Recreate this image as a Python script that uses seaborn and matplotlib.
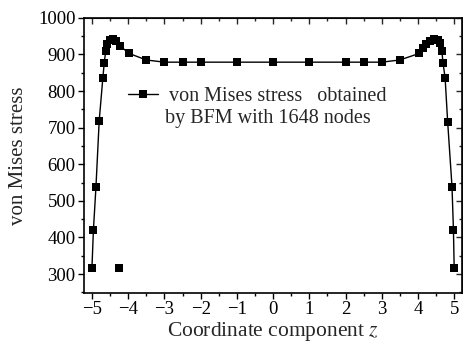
import numpy as np
import pandas as pd
import seaborn as sns
import matplotlib.pyplot as plt
from matplotlib.ticker import MultipleLocator

# values
z = [-5.0, -4.96, -4.89, -4.80, -4.70, -4.66, -4.62, -4.58, -4.50, -4.41,
     -4.34, -4.23, -3.98, -3.5, -3.0, -2.5, -2.0, -1.0, 0.0, 1.0, 2.0, 2.5,
     3.0, 3.5, 4.04, 4.13, 4.23, 4.32, 4.43, 4.54, 4.61, 4.66, 4.69, 4.75,
     4.82, 4.94, 4.98, 5.0]
stress = [317, 420, 537, 719, 835, 878, 909, 930, 939, 941,
          937, 924, 903, 885, 879, 879, 879, 879, 879, 879, 879, 879,
          879, 885, 903, 917, 928, 937, 941, 939, 932, 910, 878, 836,
          716, 539, 420, 317]
stray_z = [-4.25]
stray_stress = [317]

df = pd.DataFrame({'z': z, 'stress': stress})

sns.set_style('ticks')
plt.rcParams['font.family'] = ['Liberation Serif', 'DejaVu Serif']
plt.rcParams['mathtext.fontset'] = 'stix'

fig = plt.figure(figsize=(4.64, 3.44), dpi=100)
ax = fig.add_axes([0.181, 0.148, 0.815, 0.800])

sns.lineplot(data=df, x='z', y='stress', sort=False, color='black', lw=1.0,
             marker='s', markersize=5.5, markeredgewidth=0, ax=ax,
             label='von Mises stress   obtained')
ax.plot(stray_z, stray_stress, 's', color='black', markersize=5.5, markeredgewidth=0)

ax.set_xlim(-5.22, 5.22)
ax.set_ylim(248, 1000)
ax.xaxis.set_minor_locator(MultipleLocator(0.5))
ax.yaxis.set_major_locator(MultipleLocator(100))
ax.yaxis.set_minor_locator(MultipleLocator(50))
ax.set_xticks(range(-5, 6))
ax.set_xticklabels([str(v).replace('-', '\u2212') for v in range(-5, 6)])

ax.tick_params(which='both', direction='out', width=1, labelsize=13.5, colors='black', pad=2)
ax.tick_params(which='major', length=4)
ax.tick_params(which='minor', length=2.5)
for s in ax.spines.values():
    s.set_linewidth(1.2)
    s.set_color('black')

# inward ticks on top and right
top = ax.secondary_xaxis('top')
top.xaxis.set_major_locator(MultipleLocator(1))
top.xaxis.set_minor_locator(MultipleLocator(0.5))
top.tick_params(which='both', direction='in', labeltop=False, width=1)
top.tick_params(which='major', length=4)
top.tick_params(which='minor', length=2.5)
right = ax.secondary_yaxis('right')
right.yaxis.set_major_locator(MultipleLocator(100))
right.yaxis.set_minor_locator(MultipleLocator(50))
right.tick_params(which='both', direction='in', labelright=False, width=1)
right.tick_params(which='major', length=4)
right.tick_params(which='minor', length=2.5)

ax.set_xlabel('Coordinate component $z$', fontsize=15.5, labelpad=1)
ax.set_ylabel('von Mises stress', fontsize=15, labelpad=7)

ax.legend(loc='center left', bbox_to_anchor=(0.116, 0.713), frameon=False,
          fontsize=14.5, handlelength=1.5, handletextpad=0.55,
          borderaxespad=0, borderpad=0)
ax.text(0.214, 0.635, 'by BFM with 1648 nodes', transform=ax.transAxes,
        fontsize=14.5, va='center', ha='left')

fig.savefig('out.png', dpi=100)
